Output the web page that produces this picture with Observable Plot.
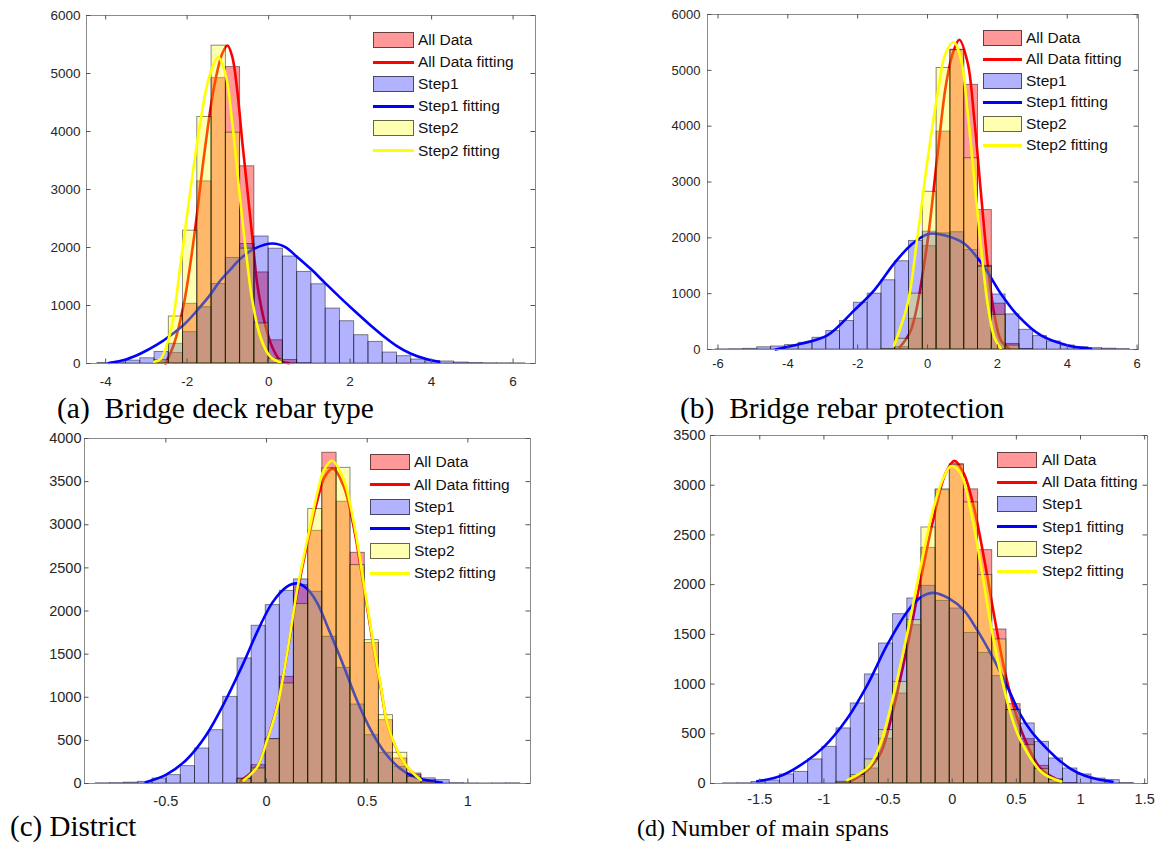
<!DOCTYPE html>
<html><head><meta charset="utf-8">
<script src="https://cdn.jsdelivr.net/npm/d3@7"></script>
<script src="https://cdn.jsdelivr.net/npm/@observablehq/plot@0.6"></script>
<style>
body{margin:0;background:#fff;}
#root{position:relative;width:1157px;height:846px;overflow:hidden;background:#fff;font-family:Arial,"Liberation Sans",sans-serif;}
.cap{position:absolute;font-family:"Times New Roman","Liberation Serif",serif;color:#000;white-space:pre;}
</style></head>
<body><div id="root"></div>
<script>
// ---------- shared text ----------
const legendLabels = ["All Data","All Data fitting","Step1","Step1 fitting","Step2","Step2 fitting"];
const captions = ["(a)  Bridge deck rebar type","(b)  Bridge rebar protection","(c) District","(d) Number of main spans"];

// ---------- panel (a) ----------
const aXTicks = [-4,-2,0,2,4,6];
const aYTicks = [0,1000,2000,3000,4000,5000,6000];
const aEdges = [-4.2,-3.85,-3.5,-3.15,-2.8,-2.45,-2.1,-1.75,-1.4,-1.05,-0.7,-0.35,0,0.35,0.7,1.05,1.4,1.75,2.1,2.45,2.8,3.15,3.5,3.85,4.2,4.55,4.9,5.25,5.6,5.95,6.3];
const aAll   = [0,0,0,0,40,180,1030,3140,4920,5110,3400,1570,400,60,5,0,0,0,0,0,0,0,0,0,0,0,0,0,0,0];
const aStep1 = [10,20,50,90,200,340,540,970,1370,1820,2060,2190,1980,1845,1580,1366,947,729,488,373,189,126,69,40,35,17,10,5,4,3];
const aStep2 = [0,0,0,0,60,810,2290,4250,5480,3980,1980,690,80,0,0,0,0,0,0,0,0,0,0,0,0,0,0,0,0,0];
const aFitAllX = [-2.53,-2.32,-2.08,-1.83,-1.59,-1.34,-1.14,-1.01,-0.89,-0.77,-0.65,-0.52,-0.40,-0.28,-0.11,0.09,0.29,0.5];
const aFitAllY = [0,340,1029,2178,3557,4764,5339,5482,5281,4707,3845,2983,2178,1374,741,281,52,5];
const aFitS1X = [-3.92,-3.5,-3.14,-2.75,-2.40,-2.05,-1.75,-1.45,-1.18,-0.9,-0.69,-0.35,0.1,0.4,0.70,1.05,1.40,1.75,2.09,2.45,2.79,3.15,3.48,3.85,4.19];
const aFitS1Y = [10,70,172,320,488,690,918,1170,1435,1650,1808,1980,2070,2010,1837,1620,1378,1140,918,690,488,300,172,80,29];
const aFitS2X = [-2.81,-2.65,-2.40,-2.16,-1.91,-1.67,-1.46,-1.24,-1.06,-0.89,-0.73,-0.56,-0.40,-0.20,0.05,0.29];
const aFitS2Y = [30,80,569,1719,3040,4189,4936,5281,4994,4132,3040,1948,1086,453,109,22];

// ---------- panel (b) ----------
const bXTicks = [-6,-4,-2,0,2,4,6];
const bYTicks = [0,1000,2000,3000,4000,5000,6000];
const bEdges = [-6.06,-5.665,-5.27,-4.875,-4.48,-4.085,-3.69,-3.295,-2.9,-2.505,-2.11,-1.715,-1.32,-0.925,-0.53,-0.135,0.26,0.655,1.05,1.445,1.84,2.235,2.63,3.025,3.42,3.815,4.21,4.605,5.0,5.395,5.79];
const bAll   = [0,0,0,0,0,0,0,0,0,0,0,0,0,42,551,1850,3903,5370,4741,2497,821,100,10,0,0,0,0,0,0,0];
const bStep1 = [3,6,12,40,54,78,120,210,330,510,838,1000,1240,1580,1945,2110,2080,2100,1780,1500,985,629,353,240,144,72,42,24,15,8];
const bStep2 = [0,0,0,0,0,0,0,0,0,0,0,0,10,192,1000,2825,5041,5360,3425,1480,620,70,0,0,0,0,0,0,0,0];
const bFitAllX = [-0.8,-0.48,-0.05,0.29,0.52,0.72,0.91,1.15,1.34,1.53,1.72,1.91,2.10,2.34];
const bFitAllY = [40,341,1719,3515,4710,5300,5549,5131,4113,2796,1539,641,162,13];
const bFitS1X = [-4.35,-3.63,-2.87,-2.10,-1.53,-0.96,-0.48,0,0.48,1.05,1.62,2.10,2.58,3.25,4.02,4.68];
const bFitS1Y = [0,102,251,700,1060,1539,1868,2066,2048,1898,1479,1000,611,251,72,12];
const bFitS2X = [-0.96,-0.57,-0.29,0,0.29,0.52,0.75,0.96,1.15,1.34,1.53,1.72,1.91,2.1];
const bFitS2Y = [72,821,2017,3395,4592,5311,5502,5190,4233,3035,1837,821,221,13];

// ---------- panel (c) ----------
const cXTicks = [-0.5,0,0.5,1];
const cYTicks = [0,500,1000,1500,2000,2500,3000,3500,4000];
const cEdges = [-0.848,-0.777,-0.707,-0.637,-0.566,-0.496,-0.426,-0.355,-0.285,-0.215,-0.144,-0.074,-0.004,0.066,0.136,0.207,0.277,0.348,0.417,0.488,0.558,0.628,0.699,0.769,0.84,0.91,0.98,1.05,1.12,1.19,1.26];
const cAll   = [0,0,0,0,0,0,0,0,0,0,58,212,514,1237,2300,2930,3835,3267,2675,1630,734,290,116,39,0,0,0,0,0,0];
const cStep1 = [3,5,10,19,58,97,201,406,618,1005,1450,1829,2068,2234,2366,2223,1701,1341,916,560,356,193,100,60,39,5,2,1,2,3];
const cStep2 = [0,0,0,0,0,0,0,0,0,0,50,174,514,1160,2080,3182,3654,3660,2532,1662,792,356,77,20,0,0,0,0,0,0];
const cFitAllX = [-0.13,-0.046,0.003,0.053,0.102,0.152,0.202,0.252,0.29,0.33,0.384,0.434,0.483,0.533,0.566,0.6,0.649,0.699,0.766];
const cFitAllY = [30,200,510,900,1500,2200,2780,3280,3560,3650,3440,2960,2280,1560,1130,690,380,190,40];
const cFitS1X = [-0.6,-0.5,-0.4,-0.3,-0.2,-0.11,-0.04,0.03,0.1,0.15,0.2,0.25,0.31,0.38,0.45,0.52,0.59,0.66,0.73,0.8,0.87];
const cFitS1Y = [15,100,270,560,980,1420,1790,2100,2280,2320,2260,2100,1780,1380,960,610,350,180,80,35,12];
const cFitS2X = [-0.113,-0.046,0.003,0.053,0.102,0.152,0.202,0.252,0.285,0.326,0.384,0.434,0.483,0.533,0.566,0.6,0.649,0.699,0.766];
const cFitS2Y = [38,193,502,889,1508,2242,2822,3364,3634,3742,3518,3016,2320,1585,1150,696,386,193,40];

// ---------- panel (d) ----------
const dXTicks = [-1.5,-1,-0.5,0,0.5,1,1.5];
const dYTicks = [0,500,1000,1500,2000,2500,3000,3500];
const dEdges = [-1.785,-1.675,-1.564,-1.454,-1.343,-1.233,-1.123,-1.012,-0.902,-0.791,-0.681,-0.571,-0.461,-0.350,-0.240,-0.129,-0.019,0.091,0.202,0.312,0.423,0.533,0.643,0.754,0.864,0.975,1.085,1.195,1.306,1.416];
const dAll   = [0,0,0,0,0,0,0,0,10,67,151,450,905,1592,2370,2950,3212,2958,2347,1549,798,446,178,44,5,0,0,0,0];
const dStep1 = [2,3,15,30,91,117,242,369,554,805,1097,1408,1703,1861,1988,1837,1760,1515,1314,1080,740,604,419,252,151,91,50,34,5];
const dStep2 = [0,0,0,0,0,0,0,0,17,84,242,537,1022,1643,2575,2958,3200,2827,2096,1449,737,385,144,34,0,0,0,0,0];
const dFitAllX = [-0.79,-0.662,-0.559,-0.455,-0.351,-0.247,-0.143,-0.052,0.018,0.09,0.168,0.246,0.324,0.402,0.48,0.558,0.688,0.818];
const dFitAllY = [23,134,302,771,1374,2045,2682,3119,3245,3119,2783,2280,1710,1173,771,469,151,40];
const dFitS1X = [-1.52,-1.35,-1.2,-1.0,-0.818,-0.662,-0.507,-0.351,-0.25,-0.143,-0.026,0.09,0.195,0.299,0.418,0.527,0.61,0.7,0.81,0.92,1.03,1.14,1.25];
const dFitS1Y = [23,70,170,369,654,990,1393,1728,1870,1917,1861,1743,1542,1308,1006,704,536,400,260,150,80,40,18];
const dFitS2X = [-0.818,-0.65,-0.559,-0.455,-0.351,-0.247,-0.143,-0.065,-0.008,0.065,0.143,0.221,0.299,0.377,0.455,0.532,0.7,0.85];
const dFitS2Y = [34,170,402,905,1509,2179,2783,3084,3192,3119,2750,2213,1610,1107,704,436,110,20];

// ---------- styling ----------
const barColors = ["#ff0000","#0000ff","#ffff00"];
const barAlpha = [0.4,0.3,0.3];
const lineColors = ["#ff0000","#0000ff","#ffff00"];
const patchFills = ["rgba(255,0,0,0.4)","rgba(0,0,255,0.3)","rgba(255,255,0,0.3)"];

const root = document.getElementById("root");

function bins(edges, vals) {
  return vals.map((v, i) => ({x1: edges[i], x2: edges[i + 1], v})).filter(d => d.v > 0);
}
function pts(xs, ys) { return xs.map((x, i) => ({x, y: ys[i]})); }

function panel(cfg) {
  const [l, t, r, b] = cfg.frame;
  const mL = 55, mR = 12, mT = 8, mB = 36;
  const pw = r - l, ph = b - t;
  const [x0, x1] = cfg.xDomain, [y0, y1] = cfg.yDomain;
  const ty = (y1 - y0) * 4.5 / ph, tx = (x1 - x0) * 4.5 / pw;
  const marks = [];
  const series = [[cfg.all, cfg.fitAll], [cfg.s1, cfg.fitS1], [cfg.s2, cfg.fitS2]];
  series.forEach(([vals, fit], k) => {
    marks.push(Plot.rect(bins(cfg.edges, vals), {
      x1: "x1", x2: "x2", y1: 0, y2: "v",
      fill: barColors[k], fillOpacity: barAlpha[k],
      stroke: "#000", strokeOpacity: 0.5, strokeWidth: 0.9
    }));
    marks.push(Plot.line(fit, {x: "x", y: "y", stroke: lineColors[k], strokeWidth: 2.6, curve: "catmull-rom"}));
  });
  marks.push(
    Plot.frame({stroke: "#8a8a8a", strokeWidth: 1}),
    Plot.ruleX(cfg.xTicks, {y1: y0, y2: y0 + ty, stroke: "#555"}),
    Plot.ruleX(cfg.xTicks, {y1: y1 - ty, y2: y1, stroke: "#555"}),
    Plot.ruleY(cfg.yTicks, {x1: x0, x2: x0 + tx, stroke: "#555"}),
    Plot.ruleY(cfg.yTicks, {x1: x1 - tx, x2: x1, stroke: "#555"}),
    Plot.axisX({ticks: cfg.xTicks, tickSize: 0, tickPadding: cfg.xPad, tickFormat: d => String(d), label: null}),
    Plot.axisY({ticks: cfg.yTicks, tickSize: 0, tickPadding: cfg.yPad, tickFormat: d => String(d), label: null})
  );
  const svg = Plot.plot({
    width: pw + mL + mR, height: ph + mT + mB,
    marginLeft: mL, marginRight: mR, marginTop: mT, marginBottom: mB,
    x: {domain: cfg.xDomain}, y: {domain: cfg.yDomain},
    style: {fontFamily: "Arial, 'Liberation Sans', sans-serif", fontSize: cfg.fontSize, color: "#262626", background: "transparent", overflow: "visible"},
    marks
  });
  svg.style.position = "absolute";
  svg.style.left = (l - mL) + "px";
  svg.style.top = (t - mT) + "px";
  root.appendChild(svg);

  const L = cfg.legend;
  legendLabels.forEach((lab, i) => {
    const cy = L.y0 + i * L.dy;
    const ci = Math.floor(i / 2);
    const sw = document.createElement("div");
    if (i % 2 === 0) {
      sw.style.cssText = `position:absolute;left:${L.x}px;top:${cy - 8}px;width:${L.w}px;height:16px;box-sizing:border-box;border:1px solid rgba(0,0,0,0.6);background:${patchFills[ci]}`;
    } else {
      sw.style.cssText = `position:absolute;left:${L.x}px;top:${cy - 1.5}px;width:${L.w}px;height:3px;background:${lineColors[ci]}`;
    }
    root.appendChild(sw);
    const tx2 = document.createElement("div");
    tx2.textContent = lab;
    tx2.style.cssText = `position:absolute;left:${L.tx}px;top:${cy - 9}px;line-height:18px;font-size:15.5px;white-space:nowrap;color:#111`;
    root.appendChild(tx2);
  });

  const cap = document.createElement("div");
  cap.className = "cap";
  cap.textContent = cfg.caption;
  const fs = cfg.capSize;
  cap.style.fontSize = fs + "px";
  cap.style.lineHeight = fs + "px";
  cap.style.left = cfg.capPos[0] + "px";
  cap.style.top = (cfg.capPos[1] - 0.8375 * fs) + "px";
  root.appendChild(cap);
}

panel({frame: [86, 15, 535, 363], xDomain: [-4.47, 6.55], yDomain: [0, 6000],
  xTicks: aXTicks, yTicks: aYTicks, edges: aEdges, all: aAll, s1: aStep1, s2: aStep2,
  fitAll: pts(aFitAllX, aFitAllY), fitS1: pts(aFitS1X, aFitS1Y), fitS2: pts(aFitS2X, aFitS2Y),
  xPad: 13, yPad: 6, fontSize: "13.5px",
  legend: {x: 373, w: 41, tx: 418, y0: 40, dy: 22.1}, caption: captions[0], capPos: [57, 419], capSize: 29.5});

panel({frame: [707, 14, 1138, 349], xDomain: [-6.3, 6.04], yDomain: [0, 6000],
  xTicks: bXTicks, yTicks: bYTicks, edges: bEdges, all: bAll, s1: bStep1, s2: bStep2,
  fitAll: pts(bFitAllX, bFitAllY), fitS1: pts(bFitS1X, bFitS1Y), fitS2: pts(bFitS2X, bFitS2Y),
  xPad: 9, yPad: 7, fontSize: "13px",
  legend: {x: 983, w: 39, tx: 1026, y0: 37.5, dy: 21.5}, caption: captions[1], capPos: [680, 419], capSize: 29.5});

panel({frame: [84, 438, 530, 783], xDomain: [-0.904, 1.311], yDomain: [0, 4000],
  xTicks: cXTicks, yTicks: cYTicks, edges: cEdges, all: cAll, s1: cStep1, s2: cStep2,
  fitAll: pts(cFitAllX, cFitAllY), fitS1: pts(cFitS1X, cFitS1Y), fitS2: pts(cFitS2X, cFitS2Y),
  xPad: 12, yPad: 3, fontSize: "14.5px",
  legend: {x: 370, w: 40, tx: 414, y0: 462.3, dy: 22.2}, caption: captions[2], capPos: [10, 836], capSize: 29});

panel({frame: [710, 435, 1147, 783], xDomain: [-1.884, 1.522], yDomain: [0, 3500],
  xTicks: dXTicks, yTicks: dYTicks, edges: dEdges, all: dAll, s1: dStep1, s2: dStep2,
  fitAll: pts(dFitAllX, dFitAllY), fitS1: pts(dFitS1X, dFitS1Y), fitS2: pts(dFitS2X, dFitS2Y),
  xPad: 10, yPad: 5, fontSize: "14.5px",
  legend: {x: 997, w: 40, tx: 1042, y0: 460, dy: 22.2}, caption: captions[3], capPos: [637, 836], capSize: 24});
</script>
</body></html>
